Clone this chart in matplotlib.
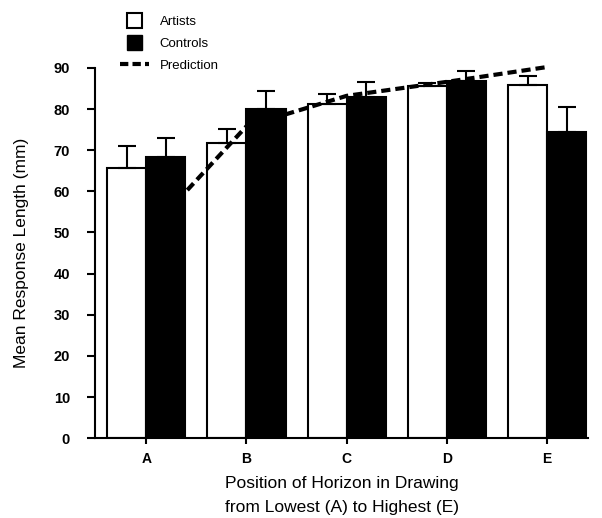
import numpy as np
import matplotlib
matplotlib.use("Agg")
import matplotlib.pyplot as plt
from matplotlib.patches import Patch, Rectangle
from matplotlib.lines import Line2D
from matplotlib.legend_handler import HandlerPatch

plt.rcParams['font.family'] = ['Liberation Sans', 'DejaVu Sans']

positions = ['A', 'B', 'C', 'D', 'E']
artists = [65.7, 71.8, 81.3, 85.6, 85.9]
artists_err = [5.3, 3.3, 2.4, 0.6, 2.2]
controls = [68.4, 80.0, 83.0, 86.9, 74.5]
controls_err = [4.6, 4.4, 3.6, 2.4, 6.0]
pred_x = [0.41, 1.0, 2.0, 3.0, 4.0]
pred_y = [60.3, 75.8, 83.2, 86.6, 90.2]


# square boxes in the legend, narrower than the dashed line handle
def square(legend, orig_handle, xdescent, ydescent, width, height, fontsize):
    s = height * 1.1
    return Rectangle((-xdescent + (width - s) / 2, -ydescent - 0.05 * height), s, s)


fig = plt.figure(figsize=(6.02, 5.18), dpi=100)
ax = fig.add_axes([0.158, 0.154, 0.819, 0.715])

x = np.arange(len(positions))
w = 0.39
ax.bar(x - w / 2, artists, w, color='white', edgecolor='black', linewidth=1.5,
       yerr=[np.zeros(5), artists_err], capsize=6.5,
       error_kw=dict(elinewidth=1.5, capthick=1.5, ecolor='black'))
ax.bar(x + w / 2, controls, w, color='black', edgecolor='black', linewidth=1.5,
       yerr=[np.zeros(5), controls_err], capsize=6.5,
       error_kw=dict(elinewidth=1.5, capthick=1.5, ecolor='black'))
ax.plot(pred_x, pred_y, color='black', linestyle=(0, (2.2, 1.2)), linewidth=3,
        clip_on=False, zorder=5)

ax.set_xlim(-0.51, 4.41)
ax.set_ylim(0, 90)
ax.set_yticks(range(0, 91, 10))
ax.set_xticks(x)
ax.set_xticklabels(positions, fontsize=10, fontweight='bold')
for t in ax.get_yticklabels():
    t.set_fontweight('bold')
ax.tick_params(axis='y', labelsize=10.5, width=1.5, length=6, pad=12)
ax.tick_params(axis='x', width=1.5, length=4, pad=6)
for s in ['top', 'right']:
    ax.spines[s].set_visible(False)
for s in ['left', 'bottom']:
    ax.spines[s].set_linewidth(1.5)

ax.set_ylabel('Mean Response Length (mm)', fontsize=12.5, labelpad=18)
ax.set_xlabel('Position of Horizon in Drawing\nfrom Lowest (A) to Highest (E)',
              fontsize=12.5, linespacing=1.75, labelpad=7)

handles = [Patch(facecolor='white', edgecolor='black', linewidth=1.5),
           Patch(facecolor='black', edgecolor='black'),
           Line2D([0], [0], color='black', linestyle=(0, (2.0, 1.0)), linewidth=3)]
fig.legend(handles, ['Artists', 'Controls', 'Prediction'], loc='upper left',
           bbox_to_anchor=(0.18, 0.997), frameon=False, fontsize=9.5,
           handlelength=2.2, handleheight=1.2, handletextpad=0.8, labelspacing=0.62,
           handler_map={Patch: HandlerPatch(patch_func=square)})

fig.savefig('out.png', dpi=100)
